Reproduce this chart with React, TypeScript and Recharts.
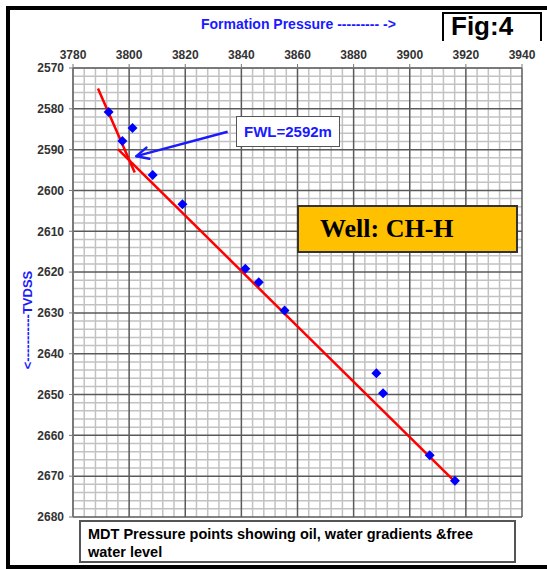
import React from 'react';
import { ScatterChart, Scatter, XAxis, YAxis, ReferenceLine } from 'recharts';

// MDT pressure vs depth, well CH-H
const pressureTicks = [3780, 3800, 3820, 3840, 3860, 3880, 3900, 3920, 3940];
const depthTicks = [2570, 2580, 2590, 2600, 2610, 2620, 2630, 2640, 2650, 2660, 2670, 2680];

const mdtPressure = [3792.7, 3801.2, 3797.6, 3808.4, 3819.0, 3841.4, 3846.2, 3855.4, 3888.1, 3890.5, 3907.1, 3916.1];
const mdtDepth = [2580.8, 2584.7, 2587.9, 2596.2, 2603.4, 2619.2, 2622.5, 2629.4, 2644.8, 2649.7, 2664.9, 2671.1];

// gradient lines (start, end)
const oilPressure = [3788.9, 3802.0];
const oilDepth = [2575.0, 2595.6];
const waterPressure = [3796.0, 3916.8];
const waterDepth = [2589.9, 2671.8];

// arrow pointing at FWL (tail, tip)
const arrowPressure = [3835.1, 3802.6];
const arrowDepth = [2585.6, 2591.6];

const FONT = '"Liberation Sans", Arial, sans-serif';

const zip = (xs: number[], ys: number[]) => xs.map((x, i) => ({ x, y: ys[i], tip: i === xs.length - 1 }));

const mdtData = zip(mdtPressure, mdtDepth);
const oilData = zip(oilPressure, oilDepth);
const waterData = zip(waterPressure, waterDepth);
const arrowData = zip(arrowPressure, arrowDepth);

// minor grid every 4 psi / 2 m
const minorX: number[] = [];
for (let v = 3780; v <= 3940; v += 4) if (v % 20 !== 0) minorX.push(v);
const minorY: number[] = [];
for (let v = 2570; v <= 2680; v += 2) if (v % 10 !== 0) minorY.push(v);

const Diamond = (props: any) => {
  const { cx, cy } = props;
  if (cx == null || cy == null) return null;
  const r = 5;
  return <polygon points={`${cx},${cy - r} ${cx + r},${cy} ${cx},${cy + r} ${cx - r},${cy}`} fill="#0000ff" />;
};

const NoShape = () => <g />;

const ArrowHead = (props: any) => {
  const { cx, cy, payload } = props;
  if (!payload || !payload.tip) return <g />;
  return (
    <g stroke="#1a1aff" strokeWidth={2.5} fill="none" strokeLinecap="round">
      <line x1={cx} y1={cy} x2={cx + 13} y2={cy + 2.5} />
      <line x1={cx} y1={cy} x2={cx + 10} y2={cy - 8.5} />
    </g>
  );
};

const tickStyle = { fontSize: 12, fontWeight: 700, fill: '#333', fontFamily: FONT };

export default function App() {
  return (
    <div style={{ position: 'absolute', left: 0, top: 0, width: 547, height: 569, background: '#fff', overflow: 'hidden', fontFamily: FONT }}>
      {/* frame */}
      <div style={{ position: 'absolute', left: 6, top: 6, width: 620, height: 555, borderLeft: '4px solid #000', borderTop: '4px solid #000', borderBottom: '4px solid #000' }} />

      <ScatterChart width={547} height={569} margin={{ top: 48, right: 25, bottom: 52, left: 23 }}>
        <XAxis
          type="number"
          dataKey="x"
          orientation="top"
          domain={[3780, 3940]}
          ticks={pressureTicks}
          height={20}
          tick={tickStyle}
          tickSize={4}
          tickMargin={5}
          axisLine={{ stroke: '#777', strokeWidth: 1.5 }}
          tickLine={{ stroke: '#777' }}
          allowDataOverflow
        />
        <YAxis
          type="number"
          dataKey="y"
          reversed
          domain={[2570, 2680]}
          ticks={depthTicks}
          width={50}
          tick={tickStyle}
          tickSize={4}
          tickMargin={5}
          axisLine={{ stroke: '#777', strokeWidth: 1.5 }}
          tickLine={{ stroke: '#777' }}
          allowDataOverflow
        />
        {minorX.map(v => <ReferenceLine key={'mx' + v} x={v} stroke="#c2c2c2" strokeWidth={1.5} />)}
        {minorY.map(v => <ReferenceLine key={'my' + v} y={v} stroke="#c2c2c2" strokeWidth={1.5} />)}
        {pressureTicks.map(v => <ReferenceLine key={'Mx' + v} x={v} stroke="#5a5a5a" strokeWidth={1.5} />)}
        {depthTicks.map(v => <ReferenceLine key={'My' + v} y={v} stroke="#5a5a5a" strokeWidth={1.5} />)}

        <Scatter data={oilData} line={{ stroke: '#ff0000', strokeWidth: 2.5 }} shape={NoShape} isAnimationActive={false} />
        <Scatter data={waterData} line={{ stroke: '#ff0000', strokeWidth: 2.5 }} shape={NoShape} isAnimationActive={false} />
        <Scatter data={arrowData} line={{ stroke: '#1a1aff', strokeWidth: 2.5 }} shape={ArrowHead} isAnimationActive={false} />
        <Scatter data={mdtData} shape={Diamond} isAnimationActive={false} />
      </ScatterChart>

      {/* axis titles */}
      <div style={{ position: 'absolute', left: 201, top: 16, fontSize: 14, fontWeight: 700, color: '#1a1aff', whiteSpace: 'nowrap' }}>
        Formation Pressure --------- -&gt;
      </div>
      <div style={{ position: 'absolute', left: 27, top: 320, transform: 'translate(-50%, -50%) rotate(-90deg)', fontSize: 13, fontWeight: 700, color: '#1a1aff', whiteSpace: 'nowrap' }}>
        &lt;-----------TVDSS
      </div>

      {/* figure tag */}
      <div style={{ position: 'absolute', left: 442, top: 12, width: 96, height: 27, border: '2px solid #000', borderBottom: 'none', background: '#fff', overflow: 'hidden' }}>
        <div style={{ position: 'absolute', left: 7, top: -3, fontSize: 26, fontWeight: 700, color: '#000', lineHeight: '30px' }}>Fig:4</div>
      </div>

      {/* FWL label */}
      <div style={{ position: 'absolute', left: 236, top: 116, height: 29, padding: '0 7px', border: '1.5px solid #555', background: '#fff', fontSize: 15, fontWeight: 700, color: '#1a1aff', lineHeight: '29px', whiteSpace: 'nowrap' }}>
        FWL=2592m
      </div>

      {/* well label */}
      <div style={{ position: 'absolute', left: 297, top: 205, width: 221, height: 48, border: '2px solid #333', background: '#ffc000', fontFamily: '"Liberation Serif", "Times New Roman", serif', fontSize: 26, fontWeight: 700, color: '#000', lineHeight: '44px', paddingLeft: 21, boxSizing: 'border-box' }}>
        Well: CH-H
      </div>

      {/* caption */}
      <div style={{ position: 'absolute', left: 79, top: 520, width: 437, height: 43, border: '2px solid #555', background: '#fff', fontSize: 14.5, fontWeight: 700, color: '#000', lineHeight: '18px', padding: '3px 0 0 7px', boxSizing: 'border-box' }}>
        MDT Pressure points showing oil, water gradients &amp;free<br />water level
      </div>
    </div>
  );
}
